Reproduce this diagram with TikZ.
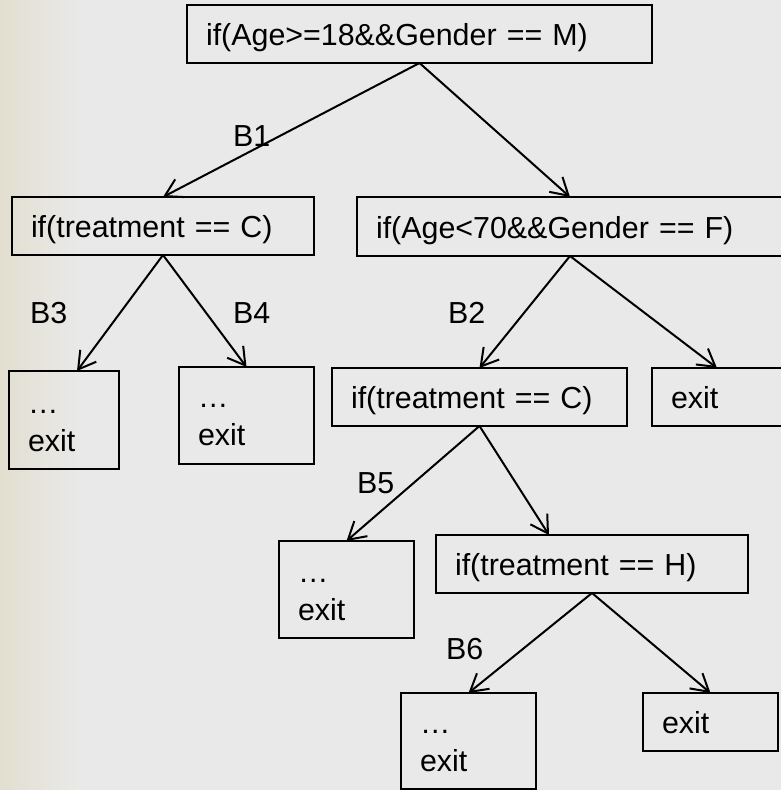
\documentclass[tikz,border=0pt]{standalone}
\usepackage{fontspec}
\setmainfont{Liberation Sans}
\usetikzlibrary{arrows.meta}
\definecolor{bg}{RGB}{233,233,233}
\definecolor{bgL}{RGB}{226,223,208}
\tikzset{
  box/.style={draw=black, line width=2pt, anchor=north west, inner ysep=0pt,
    inner xsep=19pt, outer sep=0pt, align=left, text=black,
    font=\fontsize{30.4}{38}\selectfont},
  lbl/.style={anchor=base west, inner sep=0pt, text=black,
    font=\fontsize{30.4}{38}\selectfont},
  arr/.style={draw=black, line width=2pt,
    -{Straight Barb[length=17pt,width=20pt,line width=2pt]}}
}
\begin{document}
\begin{tikzpicture}[x=1pt,y=-1pt]
\useasboundingbox (0,0) rectangle (781,790);
\clip (0,0) rectangle (781,790);
\fill[bg] (0,0) rectangle (781,790);
\shade[left color=bgL, right color=bg] (0,0) rectangle (80,790);

\node[box, text width=427pt, text height=40pt, text depth=18pt] (root) at (187,5) {if(Age>=18\&\&Gender == M)};
\node[box, text width=264pt, text height=40pt, text depth=18pt] (tc1) at (12,197) {if(treatment == C)};
\node[box, text width=388pt, text height=41pt, text depth=18pt] (age70) at (357,197) {if(Age<70\&\&Gender == F)};
\node[box, text width=72pt, text height=42pt, text depth=56pt] (ex1) at (9,371) {…\\exit};
\node[box, text width=97pt, text height=40pt, text depth=57pt] (ex2) at (179,367) {…\\exit};
\node[box, text width=257pt, text height=40pt, text depth=18pt] (tc2) at (332,368) {if(treatment == C)};
\node[box, text width=92pt, text height=40pt, text depth=18pt] (ex3) at (652,368) {exit};
\node[box, text width=97pt, text height=41pt, text depth=56pt] (ex4) at (279,541) {…\\exit};
\node[box, text width=274pt, text height=40pt, text depth=18pt] (th) at (436,535) {if(treatment == H)};
\node[box, text width=97pt, text height=40pt, text depth=56pt] (ex5) at (401,693) {…\\exit};
\node[box, text width=97pt, text height=40pt, text depth=18pt] (ex6) at (643,693) {exit};

\node[lbl] (b1) at (233,146) {B1};
\node[lbl] (b3) at (30,323) {B3};
\node[lbl] (b4) at (233,323) {B4};
\node[lbl] (b2) at (448,323) {B2};
\node[lbl] (b5) at (357,493) {B5};
\node[lbl] (b6) at (446,659) {B6};

\draw[arr] (root.south) -- (tc1.north);
\draw[arr] (root.south) -- (age70.north);
\draw[arr] (tc1.south) -- ([xshift=13pt]ex1.north);
\draw[arr] (tc1.south) -- (ex2.north);
\draw[arr] (age70.south) -- (tc2.north);
\draw[arr] (age70.south) -- (ex3.north);
\draw[arr] (tc2.south) -- (ex4.north);
\draw[arr] (tc2.south) -- ([xshift=-43pt]th.north);
\draw[arr] (th.south) -- (ex5.north);
\draw[arr] (th.south) -- (ex6.north);
\end{tikzpicture}
\end{document}
